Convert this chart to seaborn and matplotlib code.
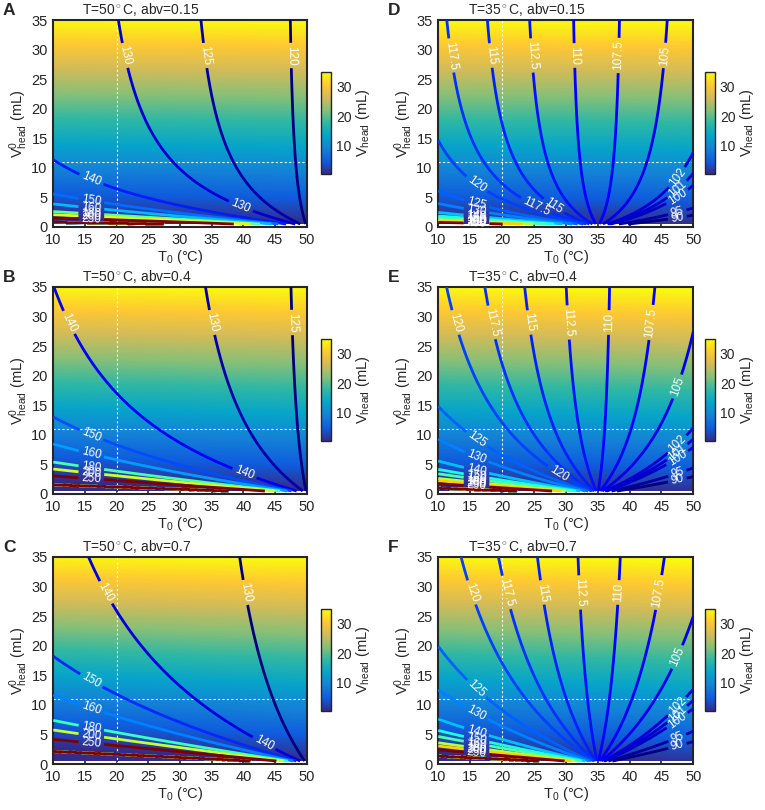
import numpy as np
import matplotlib
matplotlib.use('Agg')
import matplotlib.pyplot as plt
from matplotlib.colors import LinearSegmentedColormap, Normalize
from matplotlib.path import Path
import seaborn as sns

sns.set_theme(style='ticks')
plt.rcParams['font.family'] = ['Liberation Sans', 'DejaVu Sans']
plt.rcParams['mathtext.fontset'] = 'custom'
plt.rcParams['mathtext.rm'] = 'Liberation Sans'
plt.rcParams['mathtext.it'] = 'Liberation Sans:italic'

# panels
letters = ['A', 'B', 'C', 'D', 'E', 'F']
t_final = [50, 50, 50, 35, 35, 35]
abv = [0.15, 0.4, 0.7, 0.15, 0.4, 0.7]
# vapour pressure part at T (kPa), read where the contours meet T0 = T
p_vap = [17.8, 22.8, 24.7, 7.35, 9.35, 10.0]
# liquid expansion coefficient beta(t) = b0 + b1*t (1/K), per abv
beta_b0 = {0.15: 2.15e-4, 0.4: 7.4e-4, 0.7: 1.03e-3}
beta_b1 = {0.15: 6e-6, 0.4: 2e-6, 0.7: 2.5e-6}
p_atm = 101.325
v_total = 50.0   # mL, liquid + headspace

levels = [90, 95, 100, 101, 102, 105, 107.5, 110, 112.5, 115, 117.5,
          120, 125, 130, 140, 150, 160, 180, 200, 250]
x_ticks = [10, 15, 20, 25, 30, 35, 40, 45, 50]
y_ticks = [0, 5, 10, 15, 20, 25, 30, 35]
cbar_ticks = [10, 20, 30]
t0_ref, v0_ref = 20, 11

t0 = np.linspace(10, 50, 401)
v0 = np.linspace(0.5, 35, 691)
T0, V0 = np.meshgrid(t0, v0)

parula = LinearSegmentedColormap.from_list(
    'parula', ['#352a87', '#0f5cdd', '#1481d6', '#06a4ca', '#2eb7a4',
               '#87bf77', '#d1bb59', '#fec832', '#f9fb0e'])
jet = matplotlib.colormaps['jet']

W, H = 765, 810
fig = plt.figure(figsize=(W / 100, H / 100), dpi=100)

col_x = [53.3, 438.3]
col_w = [253.4, 255.0]
row_top = [20, 287, 557]
ax_h = 207
cbar_x = [320.7, 704.5]


def fields(T, a, b):
    k = beta_b0[a] * (T - T0) + beta_b1[a] / 2 * (T ** 2 - T0 ** 2)
    vh = V0 - (v_total - V0) * k
    with np.errstate(divide='ignore', invalid='ignore'):
        p = p_atm * (T + 273.15) / (T0 + 273.15) * V0 / vh + b
    return vh, p


def split_path(path):
    verts, codes = path.vertices, path.codes
    if codes is None:
        return [verts]
    starts = list(np.flatnonzero(codes == Path.MOVETO)) + [len(verts)]
    return [verts[s:e] for s, e in zip(starts[:-1], starts[1:])]


def label_points(cs, T):
    # label near the top, near the left or near the right edge
    pts = []
    x_lim = T - (4.8 + 0.08 * (T - 35))
    for path in cs.get_paths():
        for seg in split_path(path):
            if len(seg) < 15:
                continue
            x, y = seg[:, 0], seg[:, 1]
            if y.max() > 28:
                j = np.argmin(np.abs(y - 29))
                pts.append((x[j], y[j]))
                k = np.argmin(np.abs(y - 3.5))
                if abs(y[k] - 3.5) < 0.3 and x[k] < x_lim:
                    pts.append((x[k], y[k]))
                continue
            if x.min() < 10.3:
                j = np.argmin(np.abs(x - 16))
            elif x.max() > 49.7:
                j = np.argmin(np.abs(x - 47.5))
            else:
                j = len(seg) // 2
            pts.append((x[j], y[j]))
    return pts


for i in range(6):
    col, row = i // 3, i % 3
    T, a, b = t_final[i], abv[i], p_vap[i]
    vh, p = fields(T, a, b)

    ax = fig.add_axes([col_x[col] / W, 1 - (row_top[row] + ax_h) / H,
                       col_w[col] / W, ax_h / H])
    mesh = ax.pcolormesh(t0, v0, vh, cmap=parula, vmin=0.5, vmax=35,
                         shading='auto', rasterized=True)
    ax.axvline(t0_ref, color='w', ls=(0, (2, 2)), lw=0.8, zorder=2)
    ax.axhline(v0_ref, color='w', ls=(0, (2, 2)), lw=0.8, zorder=2)

    pmin = np.nanmin(p[vh > 0])
    lev = [l for l in levels if l >= pmin]
    norm = Normalize(vmin=lev[0], vmax=levels[-1])
    line_cols = [jet(norm(l)) for l in lev]

    # pile-up of the contours where the headspace closes (no labels)
    p_band = np.where(np.abs(vh) < 0.12, p, np.nan)
    ax.contour(t0, v0, p_band, levels=lev, colors=line_cols, linewidths=2,
               zorder=2.5)

    p_ok = np.where(vh > 0, p, np.nan)
    cs = ax.contour(t0, v0, p_ok, levels=lev, colors=line_cols,
                    linewidths=2, zorder=3)
    ax.clabel(cs, manual=label_points(cs, T), fmt='%g', fontsize=8.5,
              colors='w', inline=True, inline_spacing=3)

    ax.set_xlim(10, 50)
    ax.set_ylim(0, 35)
    ax.set_xticks(x_ticks)
    ax.set_yticks(y_ticks)
    ax.tick_params(direction='in', top=True, right=True, length=4, width=1.2,
                   labelsize=10.5, pad=4)
    for s in ax.spines.values():
        s.set_linewidth(1.5)
    ax.set_xlabel(r'$\mathregular{T_0}$ (°C)', fontsize=10.5, labelpad=1)
    ax.set_ylabel(r'$\mathregular{V^0_{head}}$ (mL)', fontsize=10.5, labelpad=1)
    ax.text(0.115, 1.008, f'T={T}$^\\circ$C, abv={a:g}', transform=ax.transAxes,
            fontsize=10, va='bottom', ha='left')

    cax = fig.add_axes([cbar_x[col] / W, 1 - (row_top[row] + 154) / H,
                        10.5 / W, 102 / H])
    cb = fig.colorbar(mesh, cax=cax, ticks=cbar_ticks)
    cb.outline.set_linewidth(1)
    cb.ax.tick_params(direction='in', length=3, labelsize=10)
    cb.set_label(r'$\mathregular{V_{head}}$ (mL)', fontsize=10.5, labelpad=2)

    fig.text((3 + 385 * col) / W, 1 - (3 + row_top[row] - 20) / H, letters[i],
             fontsize=12.5, fontweight='bold', va='top', ha='left')

fig.savefig('out.png', dpi=100)
